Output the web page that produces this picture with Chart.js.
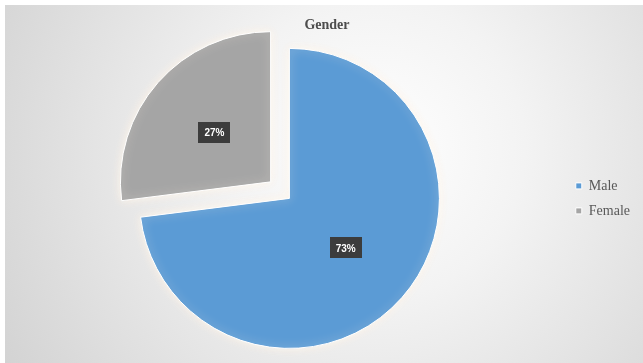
<!DOCTYPE html>
<html lang="en">
<head>
    <meta charset="UTF-8">
    <title>Gender</title>
    <script src="https://cdn.jsdelivr.net/npm/chart.js"></script>
    <style>
        html, body {
            margin: 0;
            padding: 0;
            background: #ffffff;
            overflow: hidden;
        }

        .frame {
            position: absolute;
            left: 5px;
            top: 5px;
            width: 638px;
            height: 358px;
            overflow: hidden;
            background: radial-gradient(circle at 58% 40%, #ffffff 0%, #f3f3f3 35%, #d3d3d3 100%);
        }

        canvas {
            display: block;
        }
    </style>
</head>
<body>

    <div class="frame">
        <canvas id="graficoGenero" width="638" height="358"></canvas>
    </div>

    <script>
        const categorias = ['Male', 'Female'];
        const porcentajes = [73, 27];
        const colores = ['#5B9BD5', '#A5A5A5'];
        const separacion = [0, 100];   // Chart.js moves a slice by offset / 4

        // soft light halo round the pie
        const halo = {
            id: 'halo',
            beforeDatasetsDraw(chart) {
                const ctx = chart.ctx;
                ctx.save();
                ctx.shadowColor = 'rgba(255, 244, 232, 0.95)';
                ctx.shadowBlur = 10;
            },
            afterDatasetsDraw(chart) {
                chart.ctx.restore();
            }
        };

        // dark boxed percentage in the middle of each slice
        const etiquetas = {
            id: 'etiquetas',
            afterDatasetsDraw(chart) {
                const ctx = chart.ctx;
                const arcos = chart.getDatasetMeta(0).data;
                ctx.save();
                ctx.font = 'bold 10px "Liberation Sans", Arial, sans-serif';
                ctx.textAlign = 'center';
                ctx.textBaseline = 'middle';
                arcos.forEach((arco, i) => {
                    const medio = (arco.startAngle + arco.endAngle) / 2;
                    const dist = (arco.options.offset || 0) / 4 + arco.outerRadius * 0.5;
                    const x = arco.x + Math.cos(medio) * dist;
                    const y = arco.y + Math.sin(medio) * dist;
                    const texto = porcentajes[i] + '%';
                    const ancho = ctx.measureText(texto).width + 12;
                    const alto = 21;
                    ctx.fillStyle = '#3c3c3c';
                    ctx.fillRect(Math.round(x - ancho / 2), Math.round(y - alto / 2), Math.round(ancho), alto);
                    ctx.fillStyle = '#ffffff';
                    ctx.fillText(texto, x, y + 1);
                });
                ctx.restore();
            }
        };

        const ctx = document.getElementById('graficoGenero').getContext('2d');
        new Chart(ctx, {
            type: 'pie',
            data: {
                labels: categorias,
                datasets: [{
                    data: porcentajes,
                    backgroundColor: colores,
                    borderColor: '#ffffff',
                    borderWidth: 1,
                    offset: separacion,
                    hoverOffset: 0
                }]
            },
            options: {
                responsive: false,
                animation: false,
                events: [],
                radius: 150,
                layout: {
                    padding: { left: 9, right: 3, top: 0, bottom: 0 }
                },
                plugins: {
                    title: {
                        display: true,
                        text: 'Gender',
                        color: '#4d4d4d',
                        font: { family: '"Liberation Serif", "Times New Roman", serif', size: 14, weight: 'bold' },
                        padding: { top: 12, bottom: 0 }
                    },
                    legend: {
                        position: 'right',
                        fullSize: false,
                        labels: {
                            color: '#595959',
                            boxWidth: 6,
                            boxHeight: 6,
                            padding: 11,
                            font: { family: '"Liberation Serif", "Times New Roman", serif', size: 14 }
                        }
                    },
                    tooltip: { enabled: false }
                }
            },
            plugins: [halo, etiquetas]
        });
    </script>
</body>
</html>
